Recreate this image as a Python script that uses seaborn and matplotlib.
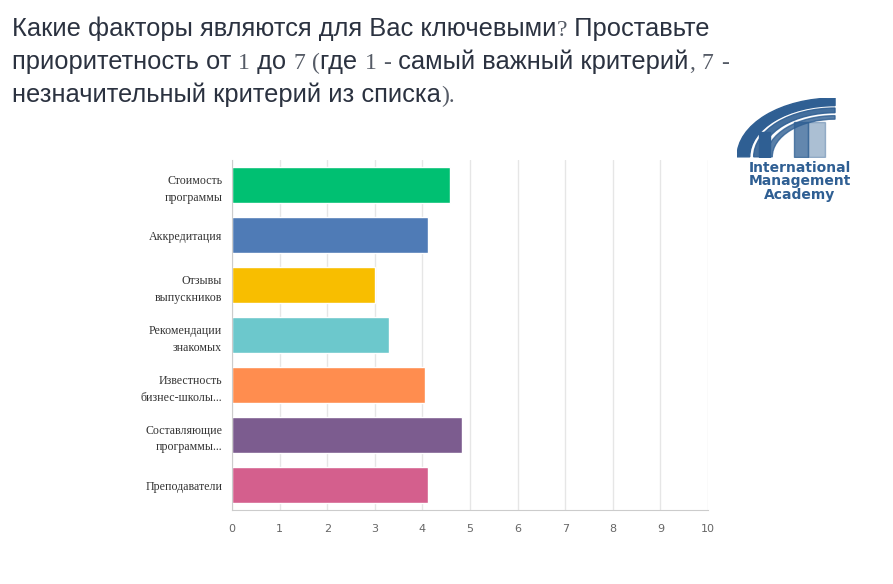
import matplotlib
matplotlib.use("Agg")
import matplotlib.pyplot as plt
import seaborn as sns
import pandas as pd
from matplotlib.patches import Wedge, Rectangle

# Data
categories = ["Стоимость\nпрограммы", "Аккредитация", "Отзывы\nвыпускников",
              "Рекомендации\nзнакомых", "Известность\nбизнес-школы...",
              "Составляющие\nпрограммы...", "Преподаватели"]
scores = [4.59, 4.11, 3.0, 3.30, 4.05, 4.83, 4.11]
colors = ["#00c072", "#4f7bb6", "#f8be00", "#6cc8cc", "#ff8d4f", "#7c5c8f", "#d45f8d"]
x_ticks = list(range(0, 11))

title_lines = ["Какие факторы являются для Вас ключевыми? Проставьте",
               "приоритетность от 1 до 7 (где 1 - самый важный критерий, 7 -",
               "незначительный критерий из списка)."]

df = pd.DataFrame({"cat": categories, "score": scores})

sns.set_style("white")
fig = plt.figure(figsize=(8.93, 5.84), dpi=100)
ax = fig.add_axes([0.2598, 0.1267, 0.533, 0.599])

sns.barplot(data=df, x="score", y="cat", hue="cat", palette=colors,
            width=0.72, legend=False, ax=ax, saturation=1)

ax.set_xlim(0, 10)
ax.set_ylim(6.5, -0.5)
ax.set_xticks(x_ticks)
ax.grid(axis="x", color="#e6e6e6", linewidth=1)
ax.set_axisbelow(True)
ax.set_xlabel("")
ax.set_ylabel("")
for s in ["top", "right"]:
    ax.spines[s].set_visible(False)
ax.spines["left"].set_color("#cccccc")
ax.spines["bottom"].set_color("#cccccc")
ax.tick_params(axis="both", length=0)
ax.tick_params(axis="x", labelsize=8, labelcolor="#666666", pad=10)
ax.tick_params(axis="y", pad=7)
for lbl in ax.get_yticklabels():
    lbl.set_fontfamily("Liberation Serif")
    lbl.set_fontsize(8.6)
    lbl.set_color("#333333")
    lbl.set_linespacing(1.55)
    lbl.set_horizontalalignment("right")
    lbl.set_multialignment("right")

# Title: letters in sans, digits and punctuation in a light serif
renderer = fig.canvas.get_renderer()
serif_chars = set("0123456789?(),-.")
title_color = "#2b3240"
y_px = 584 - 36
for line in title_lines:
    runs = []
    for ch in line:
        is_serif = ch in serif_chars
        if runs and runs[-1][1] == is_serif:
            runs[-1][0] += ch
        else:
            runs.append([ch, is_serif])
    x_px = 12
    for txt, is_serif in runs:
        fam = "Liberation Serif" if is_serif else "Liberation Sans"
        t = fig.text(x_px / 893, y_px / 584, txt, fontsize=17 if is_serif else 18.4,
                     color=title_color, family=fam, va="baseline", ha="left",
                     alpha=0.8 if is_serif else 1)
        x_px += t.get_window_extent(renderer).width
    y_px -= 33

# Logo
logo_blue = "#2f5f93"
lax = fig.add_axes([737 / 893, 1 - 158 / 584, 100 / 893, 60 / 584])
lax.set_xlim(-1, 0.02)
lax.set_ylim(-0.02, 1)
lax.axis("off")
for r, w, a in [(1.0, 0.13, 1.0), (0.83, 0.08, 0.9), (0.7, 0.06, 0.8)]:
    lax.add_patch(Wedge((0, 0), r, 90, 180, width=w, color=logo_blue, alpha=a))
lax.add_patch(Rectangle((-0.78, 0), 0.12, 0.42, color=logo_blue))
lax.add_patch(Rectangle((-0.42, 0), 0.14, 0.6, color=logo_blue, alpha=0.75))
lax.add_patch(Rectangle((-0.28, 0), 0.18, 0.6, color=logo_blue, alpha=0.4))
fig.text(800 / 893, 1 - 161 / 584, "International\nManagement\nAcademy", ha="center",
         va="top", fontsize=10, fontweight="bold", color=logo_blue,
         family="DejaVu Sans", linespacing=0.95)

fig.savefig("out.png", dpi=100)
